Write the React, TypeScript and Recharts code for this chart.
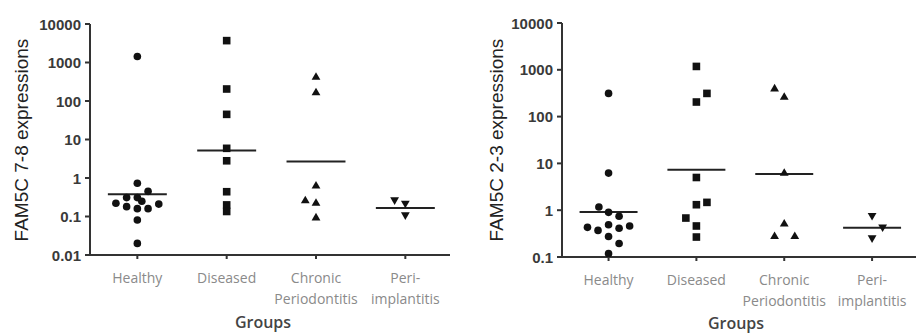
import { ScatterChart, Scatter, XAxis, YAxis, ReferenceLine } from 'recharts';

// group order on the x axis (1..4)
const GROUPS = ['Healthy', 'Diseased', 'Chronic\nPeriodontitis', 'Peri-\nimplantitis'];
const GROUP_POS = [1, 2, 3, 4];

// FAM5C 7-8 panel
const A_HEALTHY = [1430, 0.73, 0.45, 0.31, 0.31, 0.25, 0.22, 0.18, 0.16, 0.16, 0.21, 0.081, 0.02];
const A_HEALTHY_JIT = [0, 0, 0.12, -0.12, 0, 0.05, -0.24, -0.12, 0, 0.12, 0.24, 0, 0];
const A_DISEASED = [3700, 205, 45, 5.9, 2.8, 0.44, 0.2, 0.135];
const A_DISEASED_JIT = [0, 0, 0, 0, 0, 0, 0, 0];
const A_CHRONIC = [435, 172, 0.65, 0.27, 0.233, 0.097];
const A_CHRONIC_JIT = [0, 0, 0, -0.12, 0, 0];
const A_PERI = [0.257, 0.21, 0.105];
const A_PERI_JIT = [-0.12, 0, 0];
const A_MEDIANS = [0.38, 5.2, 2.67, 0.166];
const A_TICKS = [0.01, 0.1, 1, 10, 100, 1000, 10000];

// FAM5C 2-3 panel
const B_HEALTHY = [313, 6.2, 1.17, 0.9, 0.74, 0.43, 0.37, 0.49, 0.41, 0.46, 0.275, 0.195, 0.118];
const B_HEALTHY_JIT = [0, 0, -0.11, 0, 0.12, -0.24, -0.12, 0, 0.12, 0.24, 0, 0.12, 0];
const B_DISEASED = [1180, 313, 205, 5.0, 1.47, 1.31, 0.68, 0.46, 0.267];
const B_DISEASED_JIT = [0, 0.12, 0, 0, 0.12, 0, -0.12, 0, 0];
const B_CHRONIC = [408, 270, 6.4, 0.53, 0.285, 0.285];
const B_CHRONIC_JIT = [-0.11, 0, 0, 0, -0.11, 0.12];
const B_PERI = [0.74, 0.42, 0.246];
const B_PERI_JIT = [0, 0.12, 0];
const B_MEDIANS = [0.92, 7.3, 5.9, 0.42];
const B_TICKS = [0.1, 1, 10, 100, 1000, 10000];

const AXIS = '#333';
const INK = '#111';

const toPoints = (pos: number, vals: number[], jit: number[]) =>
  vals.map((v, i) => ({ x: pos + jit[i], y: v }));

const dot = (props: any) => <circle cx={props.cx} cy={props.cy} r={3.8} fill={INK} />;
const square = (props: any) => (
  <rect x={props.cx - 3.8} y={props.cy - 3.8} width={7.6} height={7.6} fill={INK} />
);
const triUp = (props: any) => {
  const { cx, cy } = props;
  return <path d={`M${cx},${cy - 4.2}L${cx + 4.4},${cy + 3.4}L${cx - 4.4},${cy + 3.4}Z`} fill={INK} />;
};
const triDown = (props: any) => {
  const { cx, cy } = props;
  return <path d={`M${cx},${cy + 4.2}L${cx + 4.4},${cy - 3.4}L${cx - 4.4},${cy - 3.4}Z`} fill={INK} />;
};

function GroupTick(props: any) {
  const { x, y, payload } = props;
  const lines = GROUPS[payload.value - 1].split('\n');
  return (
    <g>
      {lines.map((ln, i) => (
        <text
          key={i}
          x={x}
          y={y + 16 + i * 21}
          textAnchor="middle"
          dominantBaseline="central"
          fontFamily="'Open Sans', sans-serif"
          fontSize={14}
          fill="#8a8a8a"
        >
          {ln}
        </text>
      ))}
    </g>
  );
}

function ValueTick(props: any) {
  const { x, y, payload } = props;
  return (
    <text
      x={x - 2}
      y={y}
      textAnchor="end"
      dominantBaseline="central"
      fontFamily="'Liberation Sans', Arial, sans-serif"
      fontSize={15}
      fontWeight="bold"
      fill="#3a3a3a"
    >
      {String(payload.value)}
    </text>
  );
}

function Panel({
  title,
  series,
  medians,
  ticks,
  width,
  yAxisWidth,
  top,
  xAxisHeight,
  right,
  titleX,
  titleY,
  groupsX,
  groupsY,
}: any) {
  const shapes = [dot, square, triUp, triDown];
  return (
    <ScatterChart
      width={width}
      height={334}
      margin={{ top, right, bottom: 0, left: 0 }}
    >
      <XAxis
        type="number"
        dataKey="x"
        domain={[0.47, 4.5]}
        ticks={GROUP_POS}
        allowDataOverflow
        height={xAxisHeight}
        axisLine={{ stroke: AXIS, strokeWidth: 2 }}
        tickLine={{ stroke: AXIS, strokeWidth: 2 }}
        tickSize={4}
        tick={<GroupTick />}
        interval={0}
      />
      <YAxis
        type="number"
        dataKey="y"
        scale="log"
        domain={[ticks[0], ticks[ticks.length - 1]]}
        ticks={ticks}
        allowDataOverflow
        width={yAxisWidth}
        axisLine={{ stroke: AXIS, strokeWidth: 2 }}
        tickLine={{ stroke: AXIS, strokeWidth: 2 }}
        tickSize={5}
        tick={<ValueTick />}
        interval={0}
      />
      {series.map((pts: any, i: number) => (
        <Scatter key={i} data={pts} shape={shapes[i]} isAnimationActive={false} />
      ))}
      {medians.map((m: number, i: number) => (
        <ReferenceLine
          key={`m-${i}`}
          segment={[
            { x: GROUP_POS[i] - 0.33, y: m },
            { x: GROUP_POS[i] + 0.33, y: m },
          ]}
          stroke="#222"
          strokeWidth={2}
          ifOverflow="visible"
        />
      ))}
      <text
        x={titleX}
        y={titleY}
        transform={`rotate(-90, ${titleX}, ${titleY})`}
        textAnchor="middle"
        dominantBaseline="central"
        fontFamily="'Liberation Sans', Arial, sans-serif"
        fontSize={19}
        fill="#222"
      >
        {title}
      </text>
      <text
        x={groupsX}
        y={groupsY}
        textAnchor="middle"
        dominantBaseline="central"
        fontFamily="'Open Sans', sans-serif"
        fontSize={16}
        fontWeight={600}
        fill="#444"
      >
        Groups
      </text>
    </ScatterChart>
  );
}

export default function App() {
  const seriesA = [
    toPoints(1, A_HEALTHY, A_HEALTHY_JIT),
    toPoints(2, A_DISEASED, A_DISEASED_JIT),
    toPoints(3, A_CHRONIC, A_CHRONIC_JIT),
    toPoints(4, A_PERI, A_PERI_JIT),
  ];
  const seriesB = [
    toPoints(1, B_HEALTHY, B_HEALTHY_JIT),
    toPoints(2, B_DISEASED, B_DISEASED_JIT),
    toPoints(3, B_CHRONIC, B_CHRONIC_JIT),
    toPoints(4, B_PERI, B_PERI_JIT),
  ];
  return (
    <div
      style={{
        position: 'absolute',
        left: 0,
        top: 0,
        width: 919,
        height: 334,
        background: '#fff',
        display: 'flex',
      }}
    >
      <Panel
        title="FAM5C 7-8 expressions"
        series={seriesA}
        medians={A_MEDIANS}
        ticks={A_TICKS}
        width={460}
        yAxisWidth={90}
        top={24}
        xAxisHeight={79}
        right={10}
        titleX={21}
        titleY={140}
        groupsX={263}
        groupsY={322}
      />
      <Panel
        title="FAM5C 2-3 expressions"
        series={seriesB}
        medians={B_MEDIANS}
        ticks={B_TICKS}
        width={459}
        yAxisWidth={102}
        top={23}
        xAxisHeight={77}
        right={3}
        titleX={36}
        titleY={140}
        groupsX={276}
        groupsY={323}
      />
    </div>
  );
}
